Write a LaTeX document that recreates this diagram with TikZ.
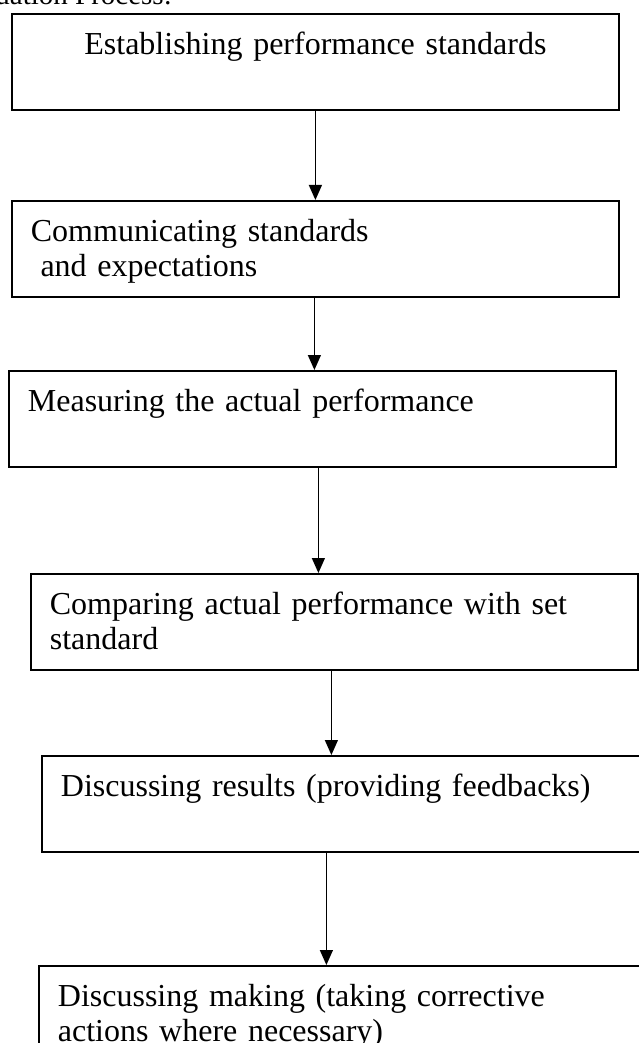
\documentclass[tikz,border=0pt]{standalone}
\usepackage{fontspec}
\setmainfont{Liberation Serif}
\usetikzlibrary{arrows.meta,positioning}

\begin{document}
\begin{tikzpicture}[
        x=1pt, y=-1pt,
        font=\fontsize{32}{35}\selectfont,
        stage/.style={draw, line width=1.8pt, anchor=north west, align=left,
            text width=569pt, inner xsep=19pt, inner ysep=0pt,
            text height=41pt, text depth=55pt},
        flow/.style={-{Triangle[width=13pt,length=15pt]}, line width=1.3pt}
    ]
    \useasboundingbox (0,0) rectangle (638,1043);

%%
% Heading, mostly cut off by the page edge
    \node (title) [anchor=base east,inner sep=0pt,font=\fontsize{29}{32}\selectfont] at (172,5) {Evaluation Process:};

%%
% Evaluation steps, top to bottom
    \node (b1) [stage,align=center] at (11,13) {Establishing performance standards};
    \node (b2) [stage] at (11,200) {Communicating standards\\\hspace{0.3em}and expectations};
    \node (b3) [stage] at (8,370) {Measuring the actual performance};
    \node (b4) [stage] at (30,573) {Comparing actual performance with set\\standard};
    \node (b5) [stage] at (41,755) {Discussing results (providing feedbacks)};
    \node (b6) [stage] at (38,965) {Discussing making (taking corrective\\actions where necessary)};

%%
% Arrows between the steps
    \draw[flow] (b1.south) -- (b1.south |- b2.north);
    \draw[flow] ([xshift=-1pt]b2.south) -- ([xshift=-1pt]b2.south |- b3.north);
    \draw[flow] ([xshift=6pt]b3.south) -- ([xshift=6pt]b3.south |- b4.north);
    \draw[flow] ([xshift=-3pt]b4.south) -- ([xshift=-3pt]b4.south |- b5.north);
    \draw[flow] ([xshift=-19pt]b5.south) -- ([xshift=-19pt]b5.south |- b6.north);

\end{tikzpicture}
\end{document}
